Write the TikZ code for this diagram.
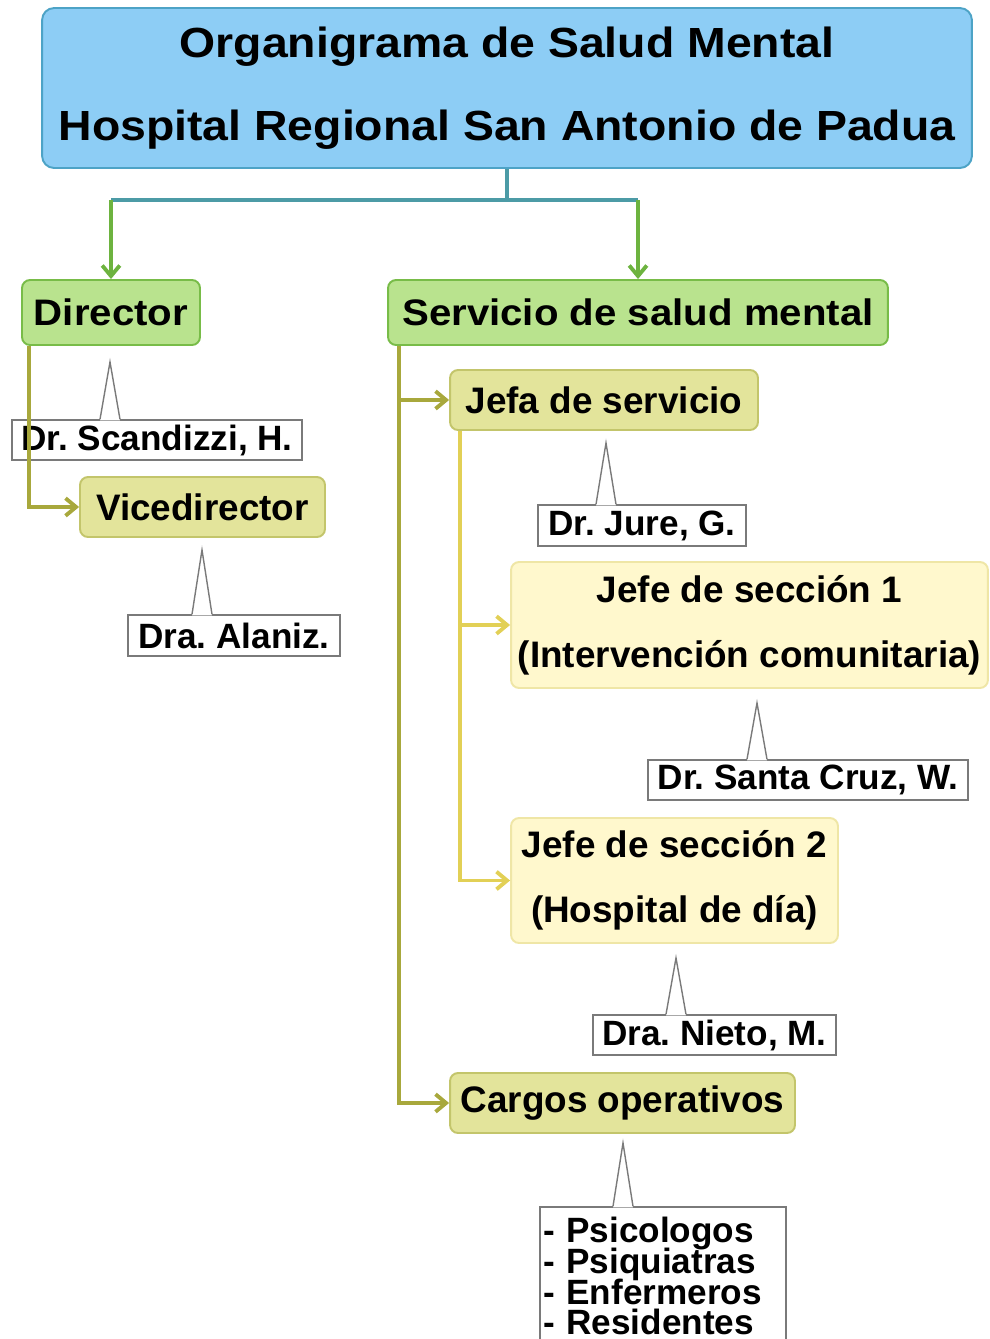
\documentclass[tikz,border=0pt]{standalone}
\usepackage{fontspec}
\setmainfont{Liberation Sans}
\newfontfamily\widesans{Liberation Sans}[FakeStretch=1.1]
\newfontfamily\midsans{Liberation Sans}[FakeStretch=1.09]
\usetikzlibrary{positioning,calc,arrows.meta}
\frenchspacing

\definecolor{titlefill}{HTML}{8DCDF5}
\definecolor{titleline}{HTML}{4DA3C6}
\definecolor{greenfill}{HTML}{B9E38E}
\definecolor{greenline}{HTML}{78BC48}
\definecolor{olivefill}{HTML}{E3E49B}
\definecolor{oliveline}{HTML}{C3C56B}
\definecolor{palefill}{HTML}{FFF8CD}
\definecolor{paleline}{HTML}{EFE6A6}
\definecolor{stemcol}{HTML}{4C9BA6}
\definecolor{armgreen}{HTML}{6DB33F}
\definecolor{armolive}{HTML}{A8A83C}
\definecolor{armyellow}{HTML}{E2D056}
\definecolor{notegray}{HTML}{7A7A7A}

\tikzset{
  box/.style={rounded corners=0.16cm, line width=1.1pt, inner sep=0pt, align=center,
    font=\fontsize{21}{37}\selectfont\bfseries},
  titlebox/.style={box, rounded corners=0.24cm, fill=titlefill, draw=titleline,
    font=\widesans\fontsize{24}{47.5}\selectfont\bfseries},
  greenbox/.style={box, fill=greenfill, draw=greenline, font=\midsans\fontsize{21}{37}\selectfont\bfseries},
  olivebox/.style={box, fill=olivefill, draw=oliveline},
  palebox/.style={box, fill=palefill, draw=paleline},
  note/.style={draw=notegray, fill=white, line width=0.8pt, inner sep=0pt,
    font=\fontsize{20}{20}\selectfont\bfseries},
  spikeline/.style={draw=notegray, line width=0.8pt},
  stemline/.style={stemcol, line width=2.2pt},
  arm/.style={line width=2.2pt, -{Straight Barb[length=6pt,width=10pt]}},
}

% pointer of a name tag: node, tip x, tip y
\newcommand{\notespike}[3]{%
  \coordinate (spk) at (#2,#3);
  \fill[white] ($(spk |- #1.north)+(-10,1)$) -- (spk) -- ($(spk |- #1.north)+(10,1)$) -- cycle;
  \draw[spikeline] ($(spk |- #1.north)+(-10,0)$) -- (spk) -- ($(spk |- #1.north)+(10,0)$);}

\begin{document}
\begin{tikzpicture}[x=0.02cm, y=-0.02cm]
    \useasboundingbox (0,0) rectangle (990,1339);
    \clip (0,0) rectangle (990,1339);

    % boxes
    \node[titlebox, minimum width=18.6cm, minimum height=3.2cm] (title) at (507,88)
        {Organigrama de Salud Mental\\Hospital Regional San Antonio de Padua};
    \node[greenbox, minimum width=3.56cm, minimum height=1.3cm] (dir) at (111,312.5) {Director};
    \node[greenbox, minimum width=10cm, minimum height=1.3cm] (serv) at (638,312.5) {Servicio de salud mental};
    \node[olivebox, minimum width=4.9cm, minimum height=1.2cm] (vice) at (202.5,507) {Vicedirector};
    \node[olivebox, minimum width=6.16cm, minimum height=1.2cm] (jefa) at (604,400) {Jefa de servicio};
    \node[palebox, minimum width=9.54cm, minimum height=2.52cm] (sec1) at (749.5,625)
        {Jefe de sección 1\\(Intervención comunitaria)};
    \node[palebox, minimum width=6.54cm, minimum height=2.5cm] (sec2) at (674.5,880.5)
        {Jefe de sección 2\\(Hospital de día)};
    \node[olivebox, minimum width=6.9cm, minimum height=1.2cm] (cargos) at (622.5,1103) {Cargos operativos};

    % name tags
    \node[note, minimum width=5.8cm, minimum height=0.8cm] (scand) at (157,440) {Dr. Scandizzi, H.};
    \notespike{scand}{110}{362}
    \node[note, minimum width=4.24cm, minimum height=0.82cm] (alan) at (234,635.5) {Dra. Alaniz.};
    \notespike{alan}{202}{550}
    \node[note, minimum width=4.16cm, minimum height=0.82cm] (jure) at (642,525.5) {Dr. Jure, G.};
    \notespike{jure}{606}{443}
    \node[note, minimum width=6.4cm, minimum height=0.8cm] (santa) at (808,780) {Dr. Santa Cruz, W.};
    \notespike{santa}{757}{703}
    \node[note, minimum width=4.86cm, minimum height=0.8cm] (nieto) at (714.5,1035) {Dra. Nieto, M.};
    \notespike{nieto}{676}{958}
    \node[note, text width=4.8cm, inner xsep=0.06cm, minimum height=2.76cm, align=left,
        font=\fontsize{20}{17.6}\selectfont\bfseries] (lista) at (663,1276)
        {\lineskiplimit=-10pt\relax
         - Psicologos\\- Psiquiatras\\- Enfermeros\\- Residentes};
    \notespike{lista}{623}{1143}

    % connectors
    \coordinate (fork) at (507,200);
    \draw[stemline] (title.south) -- (fork);
    \draw[stemline] (dir.north |- fork) -- (serv.north |- fork);
    \draw[arm, armgreen] (dir.north |- fork) -- (dir.north);
    \draw[arm, armgreen] (serv.north |- fork) -- (serv.north);

    \draw[arm, armolive] ([xshift=0.16cm]dir.south west) |- (vice.west);
    \draw[arm, armolive] ([xshift=0.24cm]serv.south west) |- (jefa.west);
    \draw[arm, armolive] ([xshift=0.24cm]serv.south west) |- (cargos.west);
    \draw[arm, armyellow] ([xshift=0.22cm]jefa.south west) |- (sec1.west);
    \draw[arm, armyellow] ([xshift=0.22cm]jefa.south west) |- (sec2.west);
\end{tikzpicture}
\end{document}
